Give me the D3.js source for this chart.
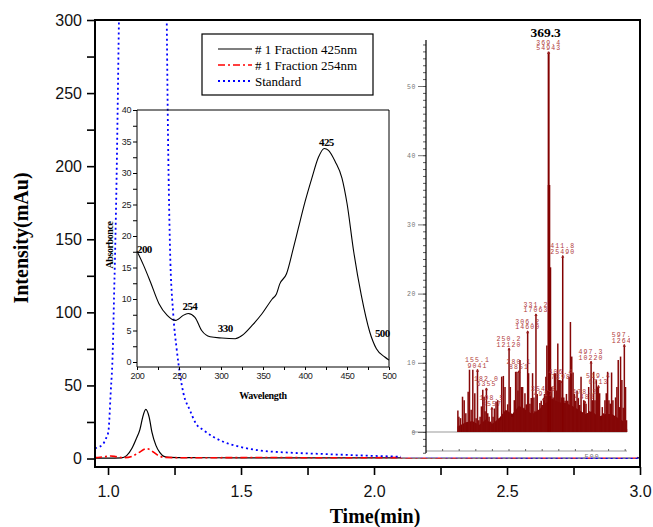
<!DOCTYPE html>
<html>
<head>
<meta charset="utf-8">
<script src="https://cdn.jsdelivr.net/npm/d3@7"></script>
<style>
body { margin: 0; background: #fff; }
svg { display: block; }
</style>
</head>
<body>
<svg id="chart" width="653" height="527"></svg>
<script>
// ---- chromatogram (main chart) ----
var timeTicks = [1.0, 1.25, 1.5, 1.75, 2.0, 2.25, 2.5, 2.75, 3.0];
var timeLabels = [1.0, 1.5, 2.0, 2.5, 3.0];
var intensityTicks = [0, 25, 50, 75, 100, 125, 150, 175, 200, 225, 250, 275, 300];
var intensityLabels = [0, 50, 100, 150, 200, 250, 300];

var fr425T = [0.951, 1.0, 1.05, 1.07, 1.09, 1.105, 1.12, 1.13, 1.142, 1.155, 1.165, 1.18, 1.195, 1.21, 1.23, 1.3, 1.5, 2.0, 2.5, 3.0];
var fr425V = [0.3, 0.3, 0.5, 2, 7, 13, 20, 28, 33.6, 28, 18, 9, 4, 1.5, 0.8, 0.6, 0.5, 0.5, 0.4, 0.4];

var fr254T = [0.951, 0.97, 0.99, 1.01, 1.03, 1.06, 1.09, 1.115, 1.145, 1.17, 1.19, 1.21, 1.3, 1.6, 1.8, 2.1, 3.0];
var fr254V = [0.6, 0.9, 1.3, 1.7, 1.3, 0.6, 1.5, 4, 6.8, 4.5, 2, 0.8, 0.5, 0.7, 0.5, 0.6, 0.6];

var stdT = [0.951, 0.96, 0.982, 0.99, 1.001, 1.01, 1.018, 1.0225, 1.027, 1.032, 1.036, 1.041, 1.06, 1.13, 1.2, 1.2207, 1.2244, 1.233, 1.2455, 1.258, 1.283, 1.308, 1.33, 1.358, 1.433, 1.496, 1.559, 1.684, 1.81, 1.935, 2.098, 2.5, 3.0];
var stdV = [7, 7.5, 10, 13, 18, 45, 75, 110, 144, 190, 237, 300, 450, 700, 450, 300, 237, 144, 98, 75, 45, 33, 24, 19.5, 11.5, 8, 5.8, 4, 3.1, 2.2, 1.3, 0.6, 0.3];

var legendNames = ["# 1 Fraction 425nm", "# 1 Fraction 254nm", "Standard"];

// ---- UV spectrum inset ----
var uvTicks = [200, 225, 250, 275, 300, 325, 350, 375, 400, 425, 450, 475, 500];
var uvTickLabels = [200, 250, 300, 350, 400, 450, 500];
var absTicks = [0, 2.5, 5, 7.5, 10, 12.5, 15, 17.5, 20, 22.5, 25, 27.5, 30, 32.5, 35, 37.5, 40];
var absTickLabels = [0, 5, 10, 15, 20, 25, 30, 35, 40];
var uvWave = [200, 208, 216, 226, 236, 246, 249, 255, 261, 269, 277, 287, 301, 317, 325, 337, 349, 361, 366, 370, 378, 386, 392, 400, 408, 416, 423, 428, 436, 444, 450, 458, 467, 477, 485, 495, 500];
var uvAbs = [17.6, 15.3, 12.7, 9.3, 7.4, 6.6, 6.8, 7.4, 7.7, 7.1, 5.0, 4.0, 3.8, 3.7, 4.2, 5.8, 7.7, 10, 10.8, 12.4, 14, 18, 21.2, 25.4, 29.1, 32.5, 33.9, 33.6, 31.8, 29.2, 25.2, 17.5, 10.6, 4.8, 2.1, 0.8, 0.3];
var uvNotes = ["200", "254", "330", "425", "500"];
var uvNoteWave = [200, 263, 305, 425.5, 492];
var uvNoteAbs = [17.3, 8.3, 4.8, 34.3, 3.9];

// ---- mass spectrum inset (intensity in thousands) ----
var msAxisTicks = [50, 100, 150, 200, 250, 300, 350, 400, 450, 500, 550, 600];
var msIntTicks = [0, 10, 20, 30, 40, 50];
var msMz = [96, 99, 104, 110, 115, 120, 127, 131, 136, 141, 147, 151, 159, 163, 167, 171, 175, 178, 186, 190, 194, 202, 206, 211, 216, 220, 224, 228, 233, 238, 242, 246, 254, 258, 262, 266, 270, 274, 277, 283, 287, 291, 295, 298, 302, 309, 313, 317, 321, 325, 328, 335, 339, 343, 347, 351, 357, 361, 364, 367, 370.5, 372, 375, 379, 383, 387, 391, 394, 397, 400, 403, 409, 415, 419, 423, 427, 431, 435, 439, 443, 447, 451, 455, 459, 463, 467, 471, 475, 482, 486, 490, 493, 501, 505, 509, 513, 517, 523, 527, 531, 535, 539, 543, 547, 551, 555, 559, 563, 567, 571, 575, 579, 583, 586, 590, 594, 601, 604];
var msInt = [3.1, 2.2, 2.0, 5.1, 4.6, 2.7, 5.8, 9.0, 3.2, 9.0, 5.6, 2.0, 1.7, 2.2, 3.7, 6.1, 5.1, 3.0, 2.7, 2.2, 1.5, 2.2, 3.4, 4.4, 4.6, 2.0, 1.7, 8.0, 8.1, 6.5, 3.0, 4.0, 6.5, 2.2, 2.2, 4.6, 8.7, 8.7, 6.0, 10.4, 6.5, 6.5, 3.5, 5.6, 4.0, 8.5, 4.1, 4.9, 8.5, 5.0, 3.0, 5.5, 3.2, 4.2, 4.5, 3.9, 5.5, 8.0, 12.5, 6.0, 35.7, 5.0, 23.8, 6.5, 5.0, 8.5, 8.5, 6.0, 12.8, 7.5, 7.5, 5.0, 5.0, 4.5, 5.5, 4.5, 8.0, 15.9, 10.9, 8.6, 5.5, 4.5, 6.0, 4.9, 3.9, 8.0, 2.7, 4.6, 4.1, 2.7, 6.5, 3.0, 4.6, 8.7, 4.6, 7.5, 6.5, 5.6, 1.7, 3.6, 2.7, 4.6, 5.6, 8.7, 4.6, 4.1, 8.6, 4.6, 2.2, 5.0, 6.5, 10.4, 3.6, 10.9, 7.5, 3.5, 6.5, 1.7];
var msFloorMz = [95, 120, 140, 160, 180, 200, 220, 240, 260, 280, 300, 320, 340, 360, 380, 400, 420, 440, 460, 480, 500, 520, 540, 560, 580, 600, 606];
var msFloorInt = [0.8, 1.4, 1.6, 1.0, 1.8, 1.2, 2.0, 3.2, 2.6, 3.8, 3.2, 2.6, 3.2, 4.2, 4.8, 4.3, 4.2, 3.8, 3.2, 2.6, 3.0, 2.2, 2.6, 2.6, 2.0, 1.4, 0.4];
var msLabelMz = [155.1, 182.0, 198.5, 250.2, 280.1, 306.2, 331.2, 354.3, 369.4, 406.4, 411.8, 478.2, 497.3, 519.4, 597.4];
var msLabelCount = [9041, 6355, 3557, 12120, 8851, 14600, 17063, 4917, 54943, 7398, 25490, 4488, 10220, 6713, 12640];

var svg = d3.select("#chart");
var serif = "'Liberation Serif', 'Times New Roman', serif";
var sans = "'Liberation Sans', Arial, sans-serif";

// scales
var x = d3.scaleLinear().domain([0.951, 3.0]).range([95, 640]);
var y = d3.scaleLinear().domain([-5.8, 300]).range([467, 20]);

svg.append("defs").append("clipPath").attr("id", "plotClip")
    .append("rect").attr("x", 95).attr("y", 20).attr("width", 545).attr("height", 447);

function series(ts, vs) {
    return ts.map(function(t, i) { return {t: t, v: vs[i]}; });
}
var line = d3.line()
    .x(function(d) { return x(d.t); })
    .y(function(d) { return y(d.v); })
    .curve(d3.curveMonotoneX);

var traces = [
    {data: series(fr425T, fr425V), color: "#000", dash: null, width: 1.2},
    {data: series(fr254T, fr254V), color: "#ff0000", dash: "7,3,2,3", width: 1.6},
    {data: series(stdT, stdV), color: "#0000ff", dash: "2,3", width: 1.8}
];

var gLines = svg.append("g").attr("clip-path", "url(#plotClip)");
gLines.selectAll("path")
    .data(traces)
    .enter()
    .append("path")
    .attr("d", function(d) { return line(d.data); })
    .attr("fill", "none")
    .attr("stroke", function(d) { return d.color; })
    .attr("stroke-width", function(d) { return d.width; })
    .attr("stroke-dasharray", function(d) { return d.dash; });

// ---- mass spectrum picture (white background covers the traces) ----
svg.append("rect").attr("x", 401).attr("y", 22).attr("width", 236).attr("height", 435.5).attr("fill", "#fff");

svg.select("defs").append("clipPath").attr("id", "msClip")
    .append("rect").attr("x", 401).attr("y", 22).attr("width", 229).attr("height", 435);

var mx = d3.scaleLinear().domain([0, 500]).range([426, 592]);
var my = d3.scaleLinear().domain([0, 50]).range([432, 86]);
var gMs = svg.append("g").attr("clip-path", "url(#msClip)");

// baseline and x axis line (grey)
gMs.append("line").attr("x1", 412).attr("x2", 627).attr("y1", my(0)).attr("y2", my(0))
    .attr("stroke", "#999").attr("stroke-width", 1);
gMs.append("line").attr("x1", 426).attr("x2", 627).attr("y1", 451).attr("y2", 451)
    .attr("stroke", "#999").attr("stroke-width", 1.2);
gMs.selectAll(".mstick")
    .data(msAxisTicks)
    .enter()
    .append("line")
    .attr("x1", function(d) { return mx(d); })
    .attr("x2", function(d) { return mx(d); })
    .attr("y1", 449).attr("y2", 451)
    .attr("stroke", "#666");
gMs.append("text").attr("x", mx(500)).attr("y", 459).attr("text-anchor", "middle")
    .attr("font-family", "'Liberation Mono', monospace").attr("font-size", 7).attr("letter-spacing", 0.8)
    .attr("fill", "#777").text("500");

// floor of the dense spectrum
var floorArea = d3.area()
    .x(function(d, i) { return mx(msFloorMz[i]); })
    .y0(my(0))
    .y1(function(d) { return my(d); });
gMs.append("path").attr("d", floorArea(msFloorInt)).attr("fill", "#7d0000");

// peaks
var peaks = msMz.map(function(m, i) { return {mz: m, v: msInt[i], lab: false}; });
msLabelMz.forEach(function(m, i) { peaks.push({mz: m, v: msLabelCount[i] / 1000, lab: true, count: msLabelCount[i]}); });

gMs.selectAll(".peak")
    .data(peaks)
    .enter()
    .append("line")
    .attr("x1", function(d) { return mx(d.mz); })
    .attr("x2", function(d) { return mx(d.mz); })
    .attr("y1", my(0))
    .attr("y2", function(d) { return my(d.v); })
    .attr("stroke", function(d) { return d.v > 20 ? "#820000" : "#860808"; })
    .attr("stroke-width", function(d) { return d.v > 50 ? 2 : (d.v > 30 ? 2.6 : 1.5); });

var labelled = peaks.filter(function(d) { return d.lab; });
gMs.selectAll(".arrow")
    .data(labelled)
    .enter()
    .append("path")
    .attr("d", function(d) {
        var px = mx(d.mz), py = my(d.v);
        return "M" + (px - 1.6) + "," + (py + 2.2) + "L" + px + "," + (py - 0.6) + "L" + (px + 1.6) + "," + (py + 2.2) + "Z";
    })
    .attr("fill", "#9b1c1c");

var labG = gMs.selectAll(".lab")
    .data(labelled)
    .enter()
    .append("g")
    .attr("font-family", "'Liberation Mono', 'DejaVu Sans Mono', monospace")
    .attr("font-size", 6.5)
    .attr("letter-spacing", 1.1)
    .attr("fill", "#b03a3a")
    .attr("text-anchor", "middle");
labG.append("text")
    .attr("x", function(d) { return mx(d.mz); })
    .attr("y", function(d) { return my(d.v) - 7.2; })
    .text(function(d) { return d.mz.toFixed(1); });
labG.append("text")
    .attr("x", function(d) { return mx(d.mz); })
    .attr("y", function(d) { return my(d.v) - 1.6; })
    .text(function(d) { return d.count; });

svg.append("text").attr("x", mx(369.4) - 3).attr("y", 37).attr("text-anchor", "middle")
    .attr("font-family", serif).attr("font-weight", "bold").attr("font-size", 13.5)
    .text("369.3");

// y axis of the mass spectrum
var msMinor = d3.range(-3, 57, 1);
svg.append("g").attr("transform", "translate(426,0)")
    .call(d3.axisLeft(my).tickValues(msMinor).tickSize(3).tickFormat(""))
    .call(function(g) { g.select(".domain").remove(); })
    .selectAll("line").attr("stroke", "#333").attr("stroke-width", 0.8);
var msMaj = svg.append("g").attr("transform", "translate(426,0)")
    .call(d3.axisLeft(my).tickValues(msIntTicks).tickSize(8).tickPadding(2))
    .call(function(g) { g.select(".domain").remove(); });
msMaj.selectAll("line").attr("stroke", "#555").attr("stroke-width", 0.8);
msMaj.selectAll("text").attr("font-family", "'Liberation Mono', monospace").attr("font-size", 6.5)
    .attr("letter-spacing", 0.6).attr("fill", "#777");
svg.append("line").attr("x1", 426).attr("x2", 426).attr("y1", 40).attr("y2", 453)
    .attr("stroke", "#000").attr("stroke-width", 1.2);

// ---- UV inset ----
var ux = d3.scaleLinear().domain([200, 500]).range([137, 389]);
var uy = d3.scaleLinear().domain([0, 40]).range([362, 110]);
var uvLine = d3.line()
    .x(function(d, i) { return ux(uvWave[i]); })
    .y(function(d) { return uy(d); })
    .curve(d3.curveMonotoneX);
svg.append("path").attr("d", uvLine(uvAbs)).attr("fill", "none").attr("stroke", "#000").attr("stroke-width", 1.1);

var uvLeft = svg.append("g").attr("transform", "translate(137,0)")
    .call(d3.axisLeft(uy).tickValues(absTicks).tickSize(4).tickPadding(2)
        .tickFormat(function(d) { return absTickLabels.indexOf(d) >= 0 ? d : ""; }))
    .call(function(g) { g.select(".domain").remove(); });
uvLeft.selectAll("text").attr("font-family", sans).attr("font-size", 9).attr("letter-spacing", -0.4).attr("fill", "#222");
var uvBottom = svg.append("g").attr("transform", "translate(0,367)")
    .call(d3.axisBottom(ux).tickValues(uvTicks).tickSize(3).tickPadding(3)
        .tickFormat(function(d) { return uvTickLabels.indexOf(d) >= 0 ? d : ""; }))
    .call(function(g) { g.select(".domain").remove(); });
uvBottom.selectAll("text").attr("font-family", sans).attr("font-size", 9).attr("letter-spacing", -0.4).attr("fill", "#222");

var uvFrame = svg.append("g").attr("stroke", "#000").attr("stroke-width", 1).attr("fill", "none");
uvFrame.append("path").attr("d", "M137,110V367H389");
uvFrame.append("path").attr("d", "M137,110H389V367");

svg.selectAll(".uvnote")
    .data(uvNotes)
    .enter()
    .append("text")
    .attr("x", function(d, i) { return ux(uvNoteWave[i]); })
    .attr("y", function(d, i) { return uy(uvNoteAbs[i]); })
    .attr("text-anchor", function(d, i) { return i === 0 ? "start" : "middle"; })
    .attr("font-family", serif).attr("font-weight", "bold").attr("font-size", 11)
    .attr("letter-spacing", -0.6)
    .text(function(d) { return d; });

svg.append("text").attr("transform", "translate(113,245) rotate(-90)").attr("text-anchor", "middle")
    .attr("font-family", serif).attr("font-weight", "bold").attr("font-size", 10).attr("letter-spacing", -0.4)
    .text("Absorbonce");
svg.append("text").attr("x", 263).attr("y", 399).attr("text-anchor", "middle")
    .attr("font-family", serif).attr("font-weight", "bold").attr("font-size", 10).attr("letter-spacing", -0.3)
    .text("Wavelength");

// ---- legend ----
var leg = svg.append("g");
leg.append("rect").attr("x", 202).attr("y", 34).attr("width", 171).attr("height", 61)
    .attr("fill", "#fff").attr("stroke", "#000").attr("stroke-width", 1.2);
var legRows = leg.selectAll(".row")
    .data(traces)
    .enter()
    .append("g")
    .attr("transform", function(d, i) { return "translate(0," + (49 + i * 16) + ")"; });
legRows.append("line").attr("x1", 218).attr("x2", 252).attr("y1", 0).attr("y2", 0)
    .attr("stroke", function(d) { return d.color; })
    .attr("stroke-width", function(d) { return d.width; })
    .attr("stroke-dasharray", function(d) { return d.dash; });
legRows.append("text").attr("x", 255).attr("y", 4.5)
    .attr("font-family", serif).attr("font-size", 13)
    .text(function(d, i) { return legendNames[i]; });

// ---- main axes and frame ----
var xAxis = svg.append("g").attr("transform", "translate(0,467)")
    .call(d3.axisBottom(x).tickValues(timeTicks).tickSize(8).tickSizeOuter(0).tickPadding(11)
        .tickFormat(function(d) { return timeLabels.indexOf(d) >= 0 ? d.toFixed(1) : ""; }))
    .call(function(g) { g.select(".domain").remove(); });
xAxis.selectAll("line").attr("stroke-width", 1.6);
xAxis.selectAll("text").attr("font-family", sans).attr("font-size", 16).attr("fill", "#111");

var yAxis = svg.append("g").attr("transform", "translate(95,0)")
    .call(d3.axisLeft(y).tickValues(intensityTicks).tickSize(8).tickSizeOuter(0).tickPadding(5)
        .tickFormat(function(d) { return intensityLabels.indexOf(d) >= 0 ? d : ""; }))
    .call(function(g) { g.select(".domain").remove(); });
yAxis.selectAll("line").attr("stroke-width", 1.6);
yAxis.selectAll("text").attr("font-family", sans).attr("font-size", 16).attr("fill", "#111");

svg.append("rect").attr("x", 95).attr("y", 20).attr("width", 545).attr("height", 447)
    .attr("fill", "none").attr("stroke", "#000").attr("stroke-width", 2);

svg.append("text").attr("x", 375).attr("y", 523).attr("text-anchor", "middle")
    .attr("font-family", serif).attr("font-weight", "bold").attr("font-size", 20)
    .text("Time(min)");
svg.append("text").attr("transform", "translate(28,238) rotate(-90)").attr("text-anchor", "middle")
    .attr("font-family", serif).attr("font-weight", "bold").attr("font-size", 20)
    .text("Intensity(mAu)");
</script>
</body>
</html>
